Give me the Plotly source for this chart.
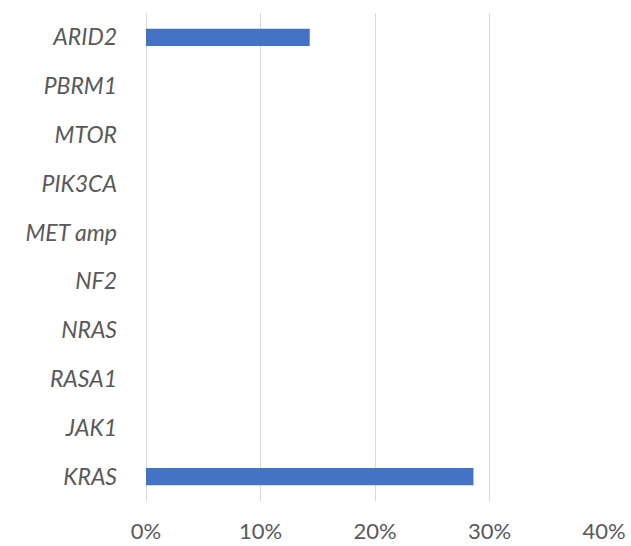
import plotly.graph_objects as go

# Alteration frequency per gene (percent of cases)
genes = ["ARID2", "PBRM1", "MTOR", "PIK3CA", "MET amp", "NF2", "NRAS", "RASA1", "JAK1", "KRAS"]
freq_pct = [14.3, 0, 0, 0, 0, 0, 0, 0, 0, 28.6]
x_ticks = [0, 10, 20, 30, 40]

FONT = "Lato"
GREY = "#595959"

fig = go.Figure(
    go.Bar(
        x=freq_pct,
        y=genes,
        orientation="h",
        marker=dict(color="#4472c4", line=dict(width=0)),
        width=0.35,
    )
)

fig.update_layout(
    width=631,
    height=546,
    margin=dict(l=146, r=27, t=13, b=45),
    plot_bgcolor="white",
    paper_bgcolor="white",
    showlegend=False,
    font=dict(family=FONT, color=GREY, size=22),
)

fig.update_xaxes(
    range=[0, 40],
    tickvals=x_ticks,
    ticktext=[f"{v}%" for v in x_ticks],
    showgrid=True,
    gridcolor="#d9d9d9",
    gridwidth=1,
    zeroline=True,
    zerolinecolor="#d9d9d9",
    zerolinewidth=1,
    showline=False,
    ticks="",
    automargin=False,
    ticklabelstandoff=15,
    tickfont=dict(family=FONT, size=22, color=GREY),
)

fig.update_yaxes(
    categoryorder="array",
    categoryarray=genes[::-1],
    showgrid=False,
    zeroline=False,
    showline=False,
    ticks="",
    automargin=False,
    ticklabelstandoff=28,
    tickfont=dict(family=FONT, size=23, color=GREY, style="italic"),
)

fig.write_html("out.html")
